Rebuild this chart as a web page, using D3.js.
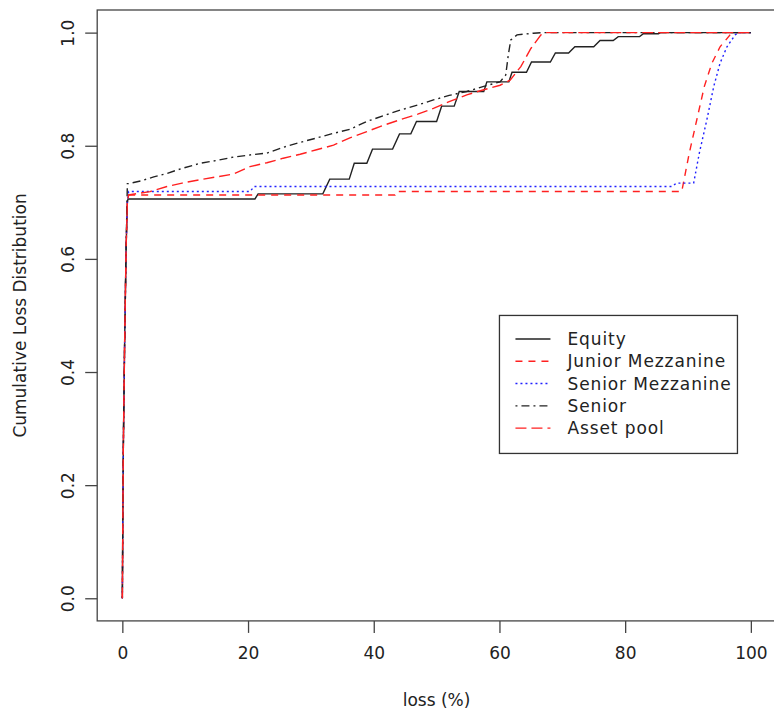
<!DOCTYPE html>
<html>
<head>
<meta charset="utf-8">
<script src="https://cdn.jsdelivr.net/npm/d3@7"></script>
<style>
  body { margin: 0; background: #fff; }
  text { font-family: "DejaVu Sans", sans-serif; fill: #222; }
</style>
</head>
<body>
<div id="my_dataviz"></div>
<script>
// data: [loss (%), cumulative probability]
var equity = [[0,0],[0.05,0.09],[0.15,0.26],[0.35,0.44],[0.6,0.62],[0.8,0.70],[0.9,0.706],[21.1,0.706],[21.6,0.715],[31.9,0.715],[33.0,0.741],[36.1,0.741],[36.9,0.769],[38.9,0.769],[39.8,0.794],[43.0,0.794],[44.1,0.821],[45.9,0.821],[46.8,0.843],[50.0,0.843],[50.8,0.870],[52.8,0.870],[53.6,0.896],[57.5,0.896],[58.0,0.913],[61.5,0.913],[62.0,0.930],[64.3,0.930],[65.1,0.948],[68.1,0.948],[68.9,0.964],[71,0.964],[72,0.975],[75,0.975],[76,0.986],[78.1,0.986],[78.9,0.993],[82.3,0.993],[82.9,0.998],[85.3,0.998],[85.6,1],[100,1]];
var juniorMezz = [[0,0],[0.05,0.09],[0.15,0.26],[0.35,0.44],[0.6,0.62],[0.8,0.70],[1.0,0.713],[43.4,0.713],[43.6,0.719],[89,0.719],[90.2,0.787],[91.4,0.846],[92.6,0.905],[93.8,0.946],[95.1,0.975],[96.7,0.996],[97.5,1],[100,1]];
var seniorMezz = [[0,0],[0.05,0.09],[0.15,0.26],[0.35,0.44],[0.6,0.62],[0.8,0.70],[1.0,0.719],[20.3,0.719],[21,0.728],[87.4,0.728],[88.2,0.734],[90.9,0.734],[91.8,0.787],[93.0,0.846],[94.1,0.905],[95.1,0.946],[96.2,0.975],[97.5,0.996],[98,1],[100,1]];
var senior = [[0,0],[0.05,0.09],[0.15,0.26],[0.35,0.44],[0.6,0.62],[0.8,0.733],[1,0.733],[3,0.738],[5,0.745],[7.1,0.751],[9.5,0.760],[12.4,0.769],[15,0.774],[17.7,0.780],[20.5,0.784],[23,0.787],[25.5,0.797],[28.3,0.806],[31,0.814],[33.6,0.822],[36.2,0.829],[38.9,0.843],[41.5,0.853],[44.2,0.863],[47,0.872],[49.5,0.881],[52,0.889],[54.8,0.896],[57.5,0.905],[60.1,0.913],[61.0,0.925],[61.4,0.96],[61.8,0.987],[62.8,0.996],[65.4,0.999],[67,1],[100,1]];
var assetPool = [[0,0],[0.05,0.09],[0.15,0.26],[0.35,0.44],[0.6,0.62],[0.8,0.70],[1,0.713],[4.4,0.719],[7.1,0.728],[9.5,0.734],[12.4,0.740],[15,0.745],[17.7,0.750],[20.3,0.763],[23,0.770],[25.6,0.778],[28.3,0.785],[30.9,0.793],[33.6,0.801],[36.2,0.814],[38.9,0.825],[41.5,0.836],[44.2,0.846],[47,0.856],[49.5,0.866],[52,0.878],[54.8,0.890],[57.5,0.899],[60.1,0.907],[61.7,0.916],[63.4,0.940],[65,0.972],[66.6,0.996],[67.5,1],[100,1]];

var seriesNames = ["Equity", "Junior Mezzanine", "Senior Mezzanine", "Senior", "Asset pool"];
var xTicks = [0, 20, 40, 60, 80, 100];
var yTicks = [0, 0.2, 0.4, 0.6, 0.8, 1.0];

// stile čiar (ako v R: lty 1..5)
var styles = [
    {color: "#222", dash: null},
    {color: "#ff2020", dash: "7,6"},
    {color: "#2020ff", dash: "2,3"},
    {color: "#222", dash: "2,4,8,4"},
    {color: "#ff2020", dash: "11,5"}
];
var allSeries = [equity, juniorMezz, seniorMezz, senior, assetPool];

var W = 774, H = 710;
var svg = d3.select("#my_dataviz").append("svg")
    .attr("width", W).attr("height", H)
    .style("display", "block");

// plot oblasť: R rozsah dát +4 %
var x = d3.scaleLinear().domain([-4, 104]).range([97.2, 776]);
var y = d3.scaleLinear().domain([-0.04, 1.04]).range([620.9, 10]);

var line = d3.line()
    .x(function (d) { return x(d[0]); })
    .y(function (d) { return y(d[1]); });

svg.selectAll("path.series")
    .data(allSeries)
    .enter()
    .append("path")
    .attr("class", "series")
    .attr("d", line)
    .attr("fill", "none")
    .attr("stroke", function (d, i) { return styles[i].color; })
    .attr("stroke-width", 1.4)
    .attr("stroke-dasharray", function (d, i) { return styles[i].dash; });

// rám
svg.append("rect")
    .attr("x", x(-4)).attr("y", y(1.04))
    .attr("width", x(104) - x(-4)).attr("height", y(-0.04) - y(1.04))
    .attr("fill", "none").attr("stroke", "#444").attr("stroke-width", 1.3);

// osi
var xAxis = svg.append("g")
    .attr("transform", "translate(0," + y(-0.04) + ")")
    .call(d3.axisBottom(x).tickValues(xTicks).tickSize(12).tickPadding(14).tickFormat(d3.format("d")));
var yAxis = svg.append("g")
    .attr("transform", "translate(" + x(-4) + ",0)")
    .call(d3.axisLeft(y).tickValues(yTicks).tickSize(12).tickPadding(0).tickFormat(d3.format(".1f")));

[xAxis, yAxis].forEach(function (g) {
    g.select(".domain").remove();
    g.selectAll(".tick line").attr("stroke", "#444").attr("stroke-width", 1.3);
    g.selectAll("text").style("font-size", "17px").attr("fill", "#222").style("font-family", "DejaVu Sans");
});
yAxis.selectAll(".tick text")
    .attr("x", null).attr("dy", null)
    .attr("transform", "translate(-23,0)rotate(-90)")
    .style("text-anchor", "middle");

// popisy osí
svg.append("text")
    .attr("x", (x(-4) + x(104)) / 2).attr("y", 706)
    .attr("text-anchor", "middle").style("font-size", "17px")
    .text("loss (%)");
svg.append("text")
    .attr("transform", "translate(26," + ((y(-0.04) + y(1.04)) / 2) + ")rotate(-90)")
    .attr("text-anchor", "middle").style("font-size", "17px")
    .text("Cumulative Loss Distribution");

// legenda na (60, 0.5)
var lx = x(60), ly = y(0.5);
var legend = svg.append("g").attr("transform", "translate(" + lx + "," + ly + ")");
legend.append("rect")
    .attr("width", 238).attr("height", 138)
    .attr("fill", "#fff").attr("stroke", "#333").attr("stroke-width", 1.3);
var rows = legend.selectAll("g.row")
    .data(seriesNames)
    .enter()
    .append("g")
    .attr("class", "row")
    .attr("transform", function (d, i) { return "translate(0," + (23.5 + i * 22.3) + ")"; });
rows.append("line")
    .attr("x1", 16).attr("x2", 51)
    .attr("stroke", function (d, i) { return styles[i].color; })
    .attr("stroke-width", 1.4)
    .attr("stroke-dasharray", function (d, i) { return styles[i].dash; });
rows.append("text")
    .attr("x", 68).attr("y", 6)
    .style("font-size", "17px")
    .style("letter-spacing", "0.9px")
    .text(function (d) { return d; });
</script>
</body>
</html>
